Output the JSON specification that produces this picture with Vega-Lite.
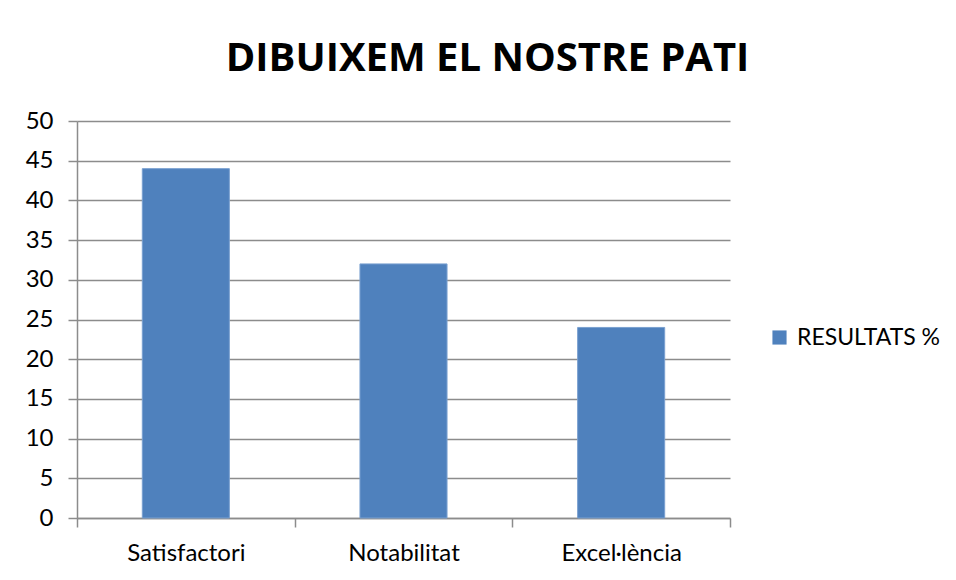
{
  "$schema": "https://vega.github.io/schema/vega-lite/v6.json",
  "width": 653,
  "height": 397,
  "autosize": {"type": "none"},
  "padding": {"left": 77, "top": 121, "right": 226, "bottom": 62},
  "background": "white",
  "title": {
    "text": "DIBUIXEM EL NOSTRE PATI",
    "font": "Open Sans",
    "fontSize": 40,
    "fontWeight": "bold",
    "color": "#000000",
    "anchor": "middle",
    "frame": "group",
    "dx": 84,
    "offset": 30
  },
  "data": {
    "values": [
      {"categoria": "Satisfactori", "valor": 44, "serie": "RESULTATS %"},
      {"categoria": "Notabilitat", "valor": 32, "serie": "RESULTATS %"},
      {"categoria": "Excel·lència", "valor": 24, "serie": "RESULTATS %"}
    ]
  },
  "mark": {"type": "bar", "width": {"band": 0.4}, "stroke": "#7aa0d0", "strokeWidth": 1},
  "encoding": {
    "x": {
      "field": "categoria",
      "type": "nominal",
      "sort": null,
      "scale": {"paddingInner": 0, "paddingOuter": 0},
      "axis": {
        "title": null,
        "labelAngle": 0,
        "tickBand": "extent",
        "tickSize": 9,
        "labelPadding": 14,
        "grid": false
      }
    },
    "y": {
      "field": "valor",
      "type": "quantitative",
      "scale": {"domain": [0, 50], "nice": false},
      "axis": {
        "title": null,
        "values": [0, 5, 10, 15, 20, 25, 30, 35, 40, 45, 50],
        "tickSize": 9,
        "labelPadding": 15,
        "grid": true
      }
    },
    "color": {
      "field": "serie",
      "type": "nominal",
      "scale": {"range": ["#4f81bd"]},
      "legend": {
        "title": null,
        "orient": "none",
        "legendX": 691,
        "legendY": 205,
        "symbolType": "square",
        "symbolSize": 200,
        "symbolStrokeWidth": 0,
        "labelFont": "Lato",
        "labelFontSize": 23,
        "labelColor": "#000000",
        "labelOffset": 6
      }
    }
  },
  "config": {
    "view": {"stroke": null},
    "axis": {
      "labelFont": "Lato",
      "labelFontSize": 24,
      "labelColor": "#000000",
      "domainColor": "#8c8c8c",
      "domainWidth": 1.5,
      "tickColor": "#8c8c8c",
      "tickWidth": 1.5,
      "gridColor": "#8c8c8c",
      "gridWidth": 1.5
    }
  }
}
